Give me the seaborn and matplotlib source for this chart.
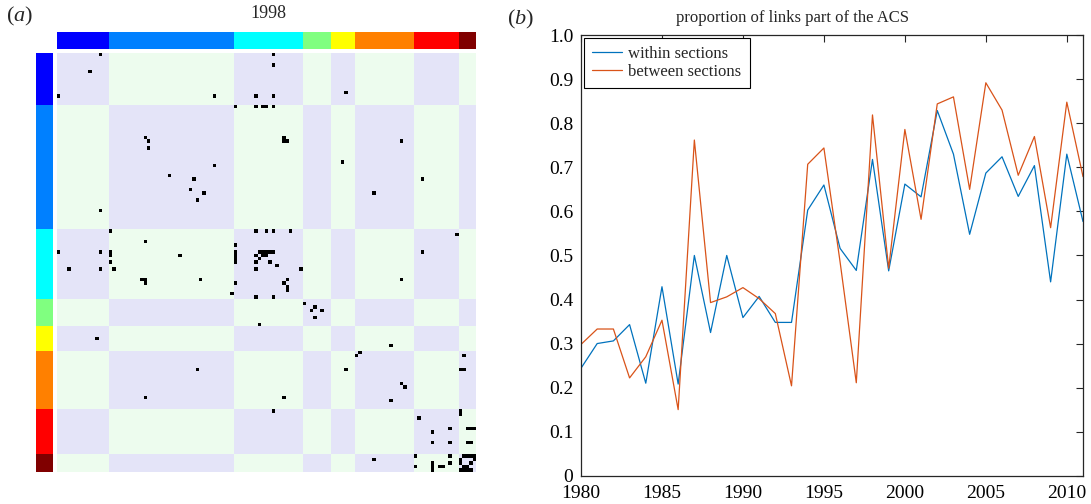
import numpy as np
import pandas as pd
import matplotlib
matplotlib.use("Agg")
import matplotlib.pyplot as plt
import seaborn as sns
from matplotlib.colors import ListedColormap

# ---------------- data ----------------
section_sizes = [15, 36, 20, 8, 7, 17, 13, 5]
section_colors = ["#0000FF", "#0080FF", "#00FFFF", "#80FF80",
                  "#FFFF00", "#FF8000", "#FF0000", "#800000"]

acs_rows = [0, 0, 3, 5, 11, 12, 12, 12, 12,
            15, 15, 15, 15, 15,
            24, 24, 25, 25, 25, 25, 27,
            31, 32, 35, 36, 36, 39, 40, 40, 42, 45,
            51, 51, 51, 51, 51, 52, 54, 55,
            57, 57, 57, 57, 57, 57, 57, 57, 57, 57,
            58, 58, 58, 58, 58, 58,
            59, 59,
            60, 60, 60, 60,
            61,
            62, 62, 62, 62, 62,
            65, 65, 65, 65, 65,
            66, 66, 66,
            67, 68,
            69, 70, 70,
            72, 73, 74, 74, 76,
            78, 82, 84, 86, 87, 87,
            91, 91, 91, 91,
            95, 96, 99, 99, 100,
            103, 103, 104, 105,
            108, 108, 108, 108,
            109, 112, 112, 112, 112,
            116, 116, 116, 116, 116, 116,
            117, 117, 117,
            118, 118, 118, 118,
            119, 119, 119, 119, 119, 119,
            120, 120, 120, 120, 120]
acs_cols = [12, 62, 62, 9, 83, 0, 45, 57, 62,
            51, 57, 59, 60, 62,
            25, 65, 26, 65, 66, 99, 26,
            82, 45, 32, 39, 105, 38, 42, 91, 40, 12,
            15, 57, 60, 62, 67, 115, 25, 51,
            0, 12, 15, 51, 58, 59, 60, 61, 62, 105,
            15, 35, 51, 57, 59, 60,
            51, 58,
            15, 51, 57, 61,
            63,
            3, 12, 16, 57, 70,
            24, 25, 41, 66, 99,
            25, 51, 65,
            66, 66,
            50, 57, 62,
            71, 74, 73, 76, 74,
            58, 11, 96, 87, 86, 117,
            40, 83, 116, 117,
            99, 100, 25, 65, 96,
            62, 116, 116, 104,
            113, 118, 119, 120,
            108, 108, 113, 118, 119,
            103, 113, 117, 118, 119, 120,
            91, 116, 120,
            108, 113, 116, 119,
            103, 108, 110, 111, 117, 118,
            108, 116, 117, 118, 119]

years = list(range(1980, 2012))
within = [0.244, 0.300, 0.306, 0.343, 0.210, 0.429, 0.208, 0.500,
          0.325, 0.500, 0.359, 0.407, 0.348, 0.348, 0.603, 0.660,
          0.516, 0.466, 0.718, 0.465, 0.662, 0.633, 0.829, 0.730,
          0.548, 0.687, 0.724, 0.634, 0.704, 0.440, 0.730, 0.577]
between = [0.298, 0.333, 0.333, 0.222, 0.270, 0.353, 0.150, 0.762,
           0.393, 0.406, 0.427, 0.402, 0.368, 0.204, 0.707, 0.744,
           0.485, 0.211, 0.819, 0.471, 0.786, 0.582, 0.844, 0.860,
           0.650, 0.892, 0.830, 0.682, 0.770, 0.563, 0.848, 0.679]

# ---------------- style ----------------
sns.set_style("white")
plt.rcParams["font.family"] = ["Liberation Serif", "DejaVu Serif"]
plt.rcParams["mathtext.fontset"] = "custom"
plt.rcParams["mathtext.rm"] = "Liberation Serif"
plt.rcParams["mathtext.it"] = "Liberation Serif:italic"

W, H = 1091, 504
fig = plt.figure(figsize=(W / 100, H / 100), dpi=100)

def box(x0, y0, x1, y1):
    return [x0 / W, 1 - y1 / H, (x1 - x0) / W, (y1 - y0) / H]

# ---------------- panel (a) ----------------
sec = np.repeat(np.arange(len(section_sizes)), section_sizes)
M = ((sec[:, None] + sec[None, :]) % 2).astype(float)
M[np.array(acs_rows), np.array(acs_cols)] = 2

ax_m = fig.add_axes(box(57, 52.7, 476, 471.7))
sns.heatmap(M, ax=ax_m, cmap=ListedColormap(["#E4E4F8", "#EDFCEE", "#000000"]),
            vmin=-0.5, vmax=2.5, cbar=False, xticklabels=False, yticklabels=False)

ax_t = fig.add_axes(box(57, 31.5, 476, 48.5))
sns.heatmap(sec[None, :], ax=ax_t, cmap=ListedColormap(section_colors),
            vmin=-0.5, vmax=len(section_sizes) - 0.5, cbar=False,
            xticklabels=False, yticklabels=False)

ax_l = fig.add_axes(box(36, 52.7, 53, 471.7))
sns.heatmap(sec[:, None], ax=ax_l, cmap=ListedColormap(section_colors),
            vmin=-0.5, vmax=len(section_sizes) - 0.5, cbar=False,
            xticklabels=False, yticklabels=False)

fig.text(268 / W, 1 - 14 / H, "1998", ha="center", va="center", fontsize=13)
fig.text(6 / W, 1 - 16 / H, r"($\mathit{a}$)", ha="left", va="center", fontsize=16)

# ---------------- panel (b) ----------------
ax_b = fig.add_axes(box(581, 35.2, 1083, 475.7))
sns.lineplot(x=years, y=within, ax=ax_b, color="#0072BD", linewidth=0.9,
             label="within sections")
sns.lineplot(x=years, y=between, ax=ax_b, color="#D95319", linewidth=0.9,
             label="between sections")
ax_b.set_xlim(1980, 2011)
ax_b.set_ylim(0, 1)
ax_b.set_xticks(list(range(1980, 2011, 5)))
yt = [i / 10 for i in range(11)]
ax_b.set_yticks(yt)
ax_b.set_yticklabels(["0"] + ["%.1f" % v for v in yt[1:]])
ax_b.tick_params(direction="in", length=5, width=0.8, labelsize=14,
                 top=True, right=True, colors="#262626", labelcolor="black")
ax_b.tick_params(axis="x", pad=7)
ax_b.tick_params(axis="y", pad=5.5)
for s in ax_b.spines.values():
    s.set_visible(True)
    s.set_color("#262626")
    s.set_linewidth(0.9)
fig.text(792 / W, 1 - 18 / H, "proportion of links part of the ACS",
         ha="center", va="center", fontsize=12)
leg = ax_b.legend(loc="upper left", fontsize=12, frameon=True, fancybox=False,
                  edgecolor="black", framealpha=1, handlelength=1.8,
                  borderaxespad=0.15, borderpad=0.5, labelspacing=0.12,
                  handletextpad=0.4)
leg.get_frame().set_linewidth(0.8)
ax_b.set_xlabel("")
ax_b.set_ylabel("")

fig.text(507 / W, 1 - 19 / H, r"($\mathit{b}$)", ha="left", va="center", fontsize=16)

fig.savefig("out.png", dpi=100)
